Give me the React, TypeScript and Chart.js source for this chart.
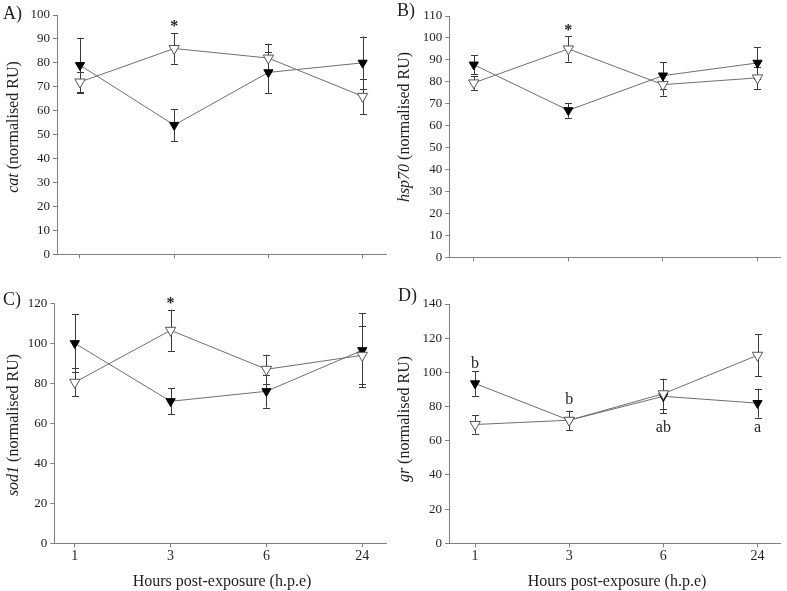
import React, { useEffect, useRef } from 'react';
import { Chart, registerables } from 'chart.js';

Chart.register(...registerables);

// ---------- data ----------
const hours = ['1', '3', '6', '24'];

// A) cat
const catFilled = [79, 54, 76, 80];
const catFilledErr = [11.5, 6.7, 8.6, 11];
const catOpen = [72, 86, 82, 66];
const catOpenErr = [4, 6.3, 6, 7.4];
const catMarks = ['', '*', '', ''];
const catMarkY = [0, 93.5, 0, 0];

// B) hsp70
const hspFilled = [87.8, 67, 82.8, 88.6];
const hspFilledErr = [4.4, 3.4, 6.2, 7.1];
const hspOpen = [79.5, 95, 78.7, 81.8];
const hspOpenErr = [3.2, 5.8, 5, 5.1];
const hspMarks = ['', '*', '', ''];
const hspMarkY = [0, 101.5, 0, 0];

// C) sod1
const sodFilled = [100, 71, 76, 96.5];
const sodFilledErr = [14.5, 6.5, 8.2, 18.5];
const sodOpen = [80.5, 106.5, 87, 94];
const sodOpenErr = [7, 10.3, 7.3, 14.5];
const sodMarks = ['', '*', '', ''];
const sodMarkY = [0, 117.6, 0, 0];

// D) gr
const grFilled = [93.5, 72, 86, 82];
const grFilledErr = [7.2, 5.5, 10, 8.5];
const grOpen = [69.5, 72, 87.5, 110];
const grOpenErr = [5.3, 5.5, 8.8, 12.2];
const grMarks = ['b', 'b', 'ab', 'a'];
const grMarkY = [102.7, 81.3, 65, 65];

const FONT = '"Liberation Serif", "Times New Roman", serif';

interface Box { left: number; top: number; width: number; height: number }
interface Area { left: number; right: number; top: number; bottom: number }
interface Panel {
  letter: string;
  gene: string;
  yMax: number;
  yStep: number;
  filled: number[];
  filledErr: number[];
  open: number[];
  openErr: number[];
  marks: string[];
  markY: number[];
  markFont: string;
  showX: boolean;
  box: Box;
  area: Area;
  xMin: number;
  xMax: number;
  yTitle: { x: number; y: number };
  label: { x: number; y: number };
  xTitle?: { x: number; y: number };
}

const starFont = `bold 16px ${FONT}`;
const letterFont = `16px ${FONT}`;

const panels: Panel[] = [
  {
    letter: 'A)', gene: 'cat', yMax: 100, yStep: 10,
    filled: catFilled, filledErr: catFilledErr, open: catOpen, openErr: catOpenErr,
    marks: catMarks, markY: catMarkY, markFont: starFont, showX: false,
    box: { left: 0, top: 0, width: 393, height: 280 },
    area: { left: 57, right: 390.7, top: 15, bottom: 254.3 },
    xMin: -0.244, xMax: 3.248,
    yTitle: { x: 13.5, y: 127 }, label: { x: 3, y: 14 },
  },
  {
    letter: 'B)', gene: 'hsp70', yMax: 110, yStep: 10,
    filled: hspFilled, filledErr: hspFilledErr, open: hspOpen, openErr: hspOpenErr,
    marks: hspMarks, markY: hspMarkY, markFont: starFont, showX: false,
    box: { left: 393, top: 0, width: 394, height: 280 },
    area: { left: 449.3, right: 783, top: 16, bottom: 257.3 },
    xMin: -0.259, xMax: 3.238,
    yTitle: { x: 405, y: 127 }, label: { x: 397, y: 11 },
  },
  {
    letter: 'C)', gene: 'sod1', yMax: 120, yStep: 20,
    filled: sodFilled, filledErr: sodFilledErr, open: sodOpen, openErr: sodOpenErr,
    marks: sodMarks, markY: sodMarkY, markFont: starFont, showX: true,
    box: { left: 0, top: 280, width: 393, height: 311 },
    area: { left: 54.3, right: 388.7, top: 303.3, bottom: 543.3 },
    xMin: -0.214, xMax: 3.248,
    yTitle: { x: 13.5, y: 425 }, label: { x: 3, y: 300.7 },
    xTitle: { x: 222, y: 581.5 },
  },
  {
    letter: 'D)', gene: 'gr', yMax: 140, yStep: 20,
    filled: grFilled, filledErr: grFilledErr, open: grOpen, openErr: grOpenErr,
    marks: grMarks, markY: grMarkY, markFont: letterFont, showX: true,
    box: { left: 393, top: 280, width: 394, height: 311 },
    area: { left: 449, right: 783, top: 304, bottom: 543.3 },
    xMin: -0.277, xMax: 3.239,
    yTitle: { x: 405, y: 419 }, label: { x: 398, y: 296 },
    xTitle: { x: 617, y: 581.5 },
  },
];

const toPts = (vals: number[]) => vals.map((v, i) => ({ x: i, y: v }));

function makeChart(canvas: HTMLCanvasElement, p: Panel): Chart {
  const ox = p.box.left;
  const oy = p.box.top;
  const errSets = [p.openErr, p.filledErr];
  const valSets = [p.open, p.filled];

  const deco = {
    id: 'deco',
    beforeDatasetsDraw(chart: any) {
      const ctx = chart.ctx as CanvasRenderingContext2D;
      const ys = chart.scales.y;
      ctx.save();
      ctx.strokeStyle = '#3a3a3a';
      ctx.lineWidth = 1;
      [0, 1].forEach((di) => {
        const meta = chart.getDatasetMeta(di);
        meta.data.forEach((pt: any, j: number) => {
          const v = valSets[di][j];
          const e = errSets[di][j];
          const x = Math.round(pt.x) + 0.5;
          const y1 = ys.getPixelForValue(v + e);
          const y2 = ys.getPixelForValue(v - e);
          ctx.beginPath();
          ctx.moveTo(x, y1);
          ctx.lineTo(x, y2);
          ctx.moveTo(x - 3.5, Math.round(y1) + 0.5);
          ctx.lineTo(x + 3.5, Math.round(y1) + 0.5);
          ctx.moveTo(x - 3.5, Math.round(y2) + 0.5);
          ctx.lineTo(x + 3.5, Math.round(y2) + 0.5);
          ctx.stroke();
        });
      });
      ctx.restore();
    },
    afterDraw(chart: any) {
      const ctx = chart.ctx as CanvasRenderingContext2D;
      const xs = chart.scales.x;
      const ys = chart.scales.y;
      ctx.save();
      ctx.fillStyle = '#1e1e1e';
      // significance marks
      ctx.textAlign = 'center';
      ctx.textBaseline = 'alphabetic';
      ctx.font = p.markFont;
      p.marks.forEach((m, i) => {
        if (!m) return;
        ctx.fillText(m, xs.getPixelForValue(i), ys.getPixelForValue(p.markY[i]));
      });
      // panel label
      ctx.textAlign = 'left';
      ctx.textBaseline = 'middle';
      ctx.font = `18px ${FONT}`;
      ctx.fillText(p.letter, p.label.x - ox, p.label.y - oy);
      // y title (italic gene + normal text)
      ctx.save();
      ctx.translate(p.yTitle.x - ox, p.yTitle.y - oy);
      ctx.rotate(-Math.PI / 2);
      const italic = `italic 16px ${FONT}`;
      const normal = `16px ${FONT}`;
      ctx.font = italic;
      const w1 = ctx.measureText(p.gene).width;
      ctx.font = normal;
      const rest = ' (normalised RU)';
      const w2 = ctx.measureText(rest).width;
      const start = -(w1 + w2) / 2;
      ctx.textAlign = 'left';
      ctx.textBaseline = 'middle';
      ctx.font = italic;
      ctx.fillText(p.gene, start, 0);
      ctx.font = normal;
      ctx.fillText(rest, start + w1, 0);
      ctx.restore();
      // x title
      if (p.xTitle) {
        ctx.textAlign = 'center';
        ctx.textBaseline = 'middle';
        ctx.font = `16px ${FONT}`;
        ctx.fillText('Hours post-exposure (h.p.e)', p.xTitle.x - ox, p.xTitle.y - oy);
      }
      ctx.restore();
    },
  };

  const lineColor = '#6e6e6e';
  const axisColor = '#808080';

  return new Chart(canvas, {
    type: 'line',
    data: {
      datasets: [
        {
          label: 'open',
          data: toPts(p.open),
          order: 0,
          borderColor: lineColor,
          borderWidth: 1,
          tension: 0,
          fill: false,
          pointStyle: 'triangle',
          pointRotation: 180,
          pointRadius: 6,
          pointBackgroundColor: '#ffffff',
          pointBorderColor: '#555555',
          pointBorderWidth: 1,
        },
        {
          label: 'filled',
          data: toPts(p.filled),
          order: 1,
          borderColor: lineColor,
          borderWidth: 1,
          tension: 0,
          fill: false,
          pointStyle: 'triangle',
          pointRotation: 180,
          pointRadius: 5.3,
          pointBackgroundColor: '#000000',
          pointBorderColor: '#000000',
          pointBorderWidth: 1,
        },
      ],
    } as any,
    options: {
      responsive: false,
      maintainAspectRatio: false,
      animation: false,
      devicePixelRatio: 1,
      events: [],
      layout: {
        padding: {
          left: 0,
          top: p.area.top - p.box.top,
          right: p.box.left + p.box.width - p.area.right,
          bottom: 0,
        },
      },
      plugins: {
        legend: { display: false },
        tooltip: { enabled: false },
      },
      scales: {
        x: {
          type: 'linear',
          min: p.xMin,
          max: p.xMax,
          afterBuildTicks: (s: any) => {
            s.ticks = hours.map((_, i) => ({ value: i }));
          },
          afterFit: (s: any) => {
            s.height = p.box.top + p.box.height - p.area.bottom;
          },
          ticks: {
            autoSkip: false,
            maxRotation: 0,
            padding: 1,
            color: '#1e1e1e',
            font: { family: FONT, size: 14 },
            callback: (_v: any, i: number) => (p.showX ? hours[i] : ''),
          },
          grid: { drawOnChartArea: false, drawTicks: true, tickLength: 4, color: axisColor },
          border: { display: true, color: axisColor, width: 1 },
        },
        y: {
          min: 0,
          max: p.yMax,
          afterFit: (s: any) => {
            s.width = p.area.left - p.box.left;
          },
          ticks: {
            stepSize: p.yStep,
            padding: 3,
            color: '#1e1e1e',
            font: { family: FONT, size: 13 },
          },
          grid: { drawOnChartArea: false, drawTicks: true, tickLength: 4, color: axisColor },
          border: { display: true, color: axisColor, width: 1 },
        },
      },
    } as any,
    plugins: [deco],
  });
}

function PanelChart({ p }: { p: Panel }) {
  const ref = useRef<HTMLCanvasElement | null>(null);
  useEffect(() => {
    if (!ref.current) return;
    const chart = makeChart(ref.current, p);
    return () => chart.destroy();
  }, [p]);
  return (
    <canvas
      ref={ref}
      width={p.box.width}
      height={p.box.height}
      style={{
        position: 'absolute',
        left: p.box.left,
        top: p.box.top,
        width: p.box.width,
        height: p.box.height,
      }}
    />
  );
}

export default function App() {
  return (
    <div
      style={{
        position: 'absolute',
        left: 0,
        top: 0,
        width: 787,
        height: 591,
        background: '#ffffff',
        overflow: 'hidden',
      }}
    >
      {panels.map((p) => (
        <PanelChart key={p.letter} p={p} />
      ))}
    </div>
  );
}
